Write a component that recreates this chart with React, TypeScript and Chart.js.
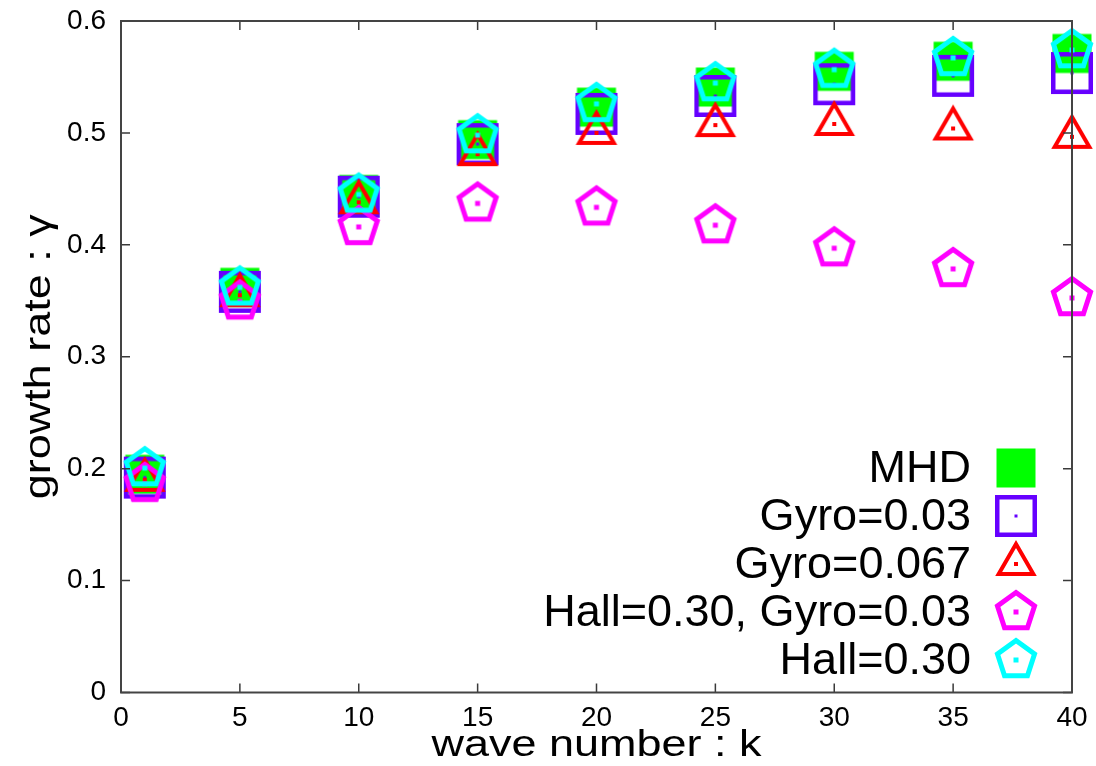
import React, { useEffect, useRef } from "react";
import { Chart, registerables } from "chart.js";

Chart.register(...registerables);

// ---- data ----
const kValues = [1, 5, 10, 15, 20, 25, 30, 35, 40];
const mhdValues = [0.195, 0.362, 0.445, 0.494, 0.523, 0.541, 0.555, 0.564, 0.571];
const gyro003Values = [0.192, 0.358, 0.443, 0.49, 0.517, 0.533, 0.5435, 0.551, 0.5535];
const gyro0067Values = [0.19, 0.355, 0.438, 0.481, 0.5, 0.507, 0.508, 0.504, 0.4965];
const hallGyroValues = [0.1865, 0.3495, 0.416, 0.437, 0.4335, 0.4175, 0.397, 0.3785, 0.3525];
const hallValues = [0.2005, 0.362, 0.445, 0.498, 0.526, 0.5445, 0.5565, 0.567, 0.574];

const seriesLabels = ["MHD", "Gyro=0.03", "Gyro=0.067", "Hall=0.30, Gyro=0.03", "Hall=0.30"];
const seriesValues = [mhdValues, gyro003Values, gyro0067Values, hallGyroValues, hallValues];
const seriesColors = ["#00ff00", "#6600ff", "#ff0000", "#ff00ff", "#00ffff"];
const markerKinds = ["filledSquare", "square", "triangle", "pentagon", "pentagon"];

const xTickValues = [0, 5, 10, 15, 20, 25, 30, 35, 40];
const yTickValues = [0, 0.1, 0.2, 0.3, 0.4, 0.5, 0.6];
const xTitle = "wave number : k";
const yTitle = "growth rate : \u03b3";

const FONT = "'Liberation Sans', Arial, sans-serif";

function makeMarker(kind: string, color: string): HTMLCanvasElement {
  const size = 60;
  const c = size / 2;
  const cv = document.createElement("canvas");
  cv.width = size;
  cv.height = size;
  const g = cv.getContext("2d")!;
  g.strokeStyle = color;
  g.fillStyle = color;
  g.lineJoin = "miter";
  let dot = 4;
  if (kind === "filledSquare") {
    g.fillRect(c - 19.5, c - 19.5, 39, 39);
  } else if (kind === "square") {
    g.lineWidth = 4.5;
    g.strokeRect(c - 18.75, c - 18.75, 37.5, 37.5);
    dot = 3;
  } else if (kind === "triangle") {
    const r = 20;
    g.lineWidth = 4;
    g.beginPath();
    for (let i = 0; i < 3; i++) {
      const a = -Math.PI / 2 + (i * 2 * Math.PI) / 3;
      const px = c + r * Math.cos(a);
      const py = c + r * Math.sin(a);
      if (i === 0) g.moveTo(px, py);
      else g.lineTo(px, py);
    }
    g.closePath();
    g.stroke();
    dot = 4;
  } else if (kind === "pentagon") {
    const r = 19.5;
    g.lineWidth = 5;
    g.beginPath();
    for (let i = 0; i < 5; i++) {
      const a = -Math.PI / 2 + (i * 2 * Math.PI) / 5;
      const px = c + r * Math.cos(a);
      const py = c + r * Math.sin(a);
      if (i === 0) g.moveTo(px, py);
      else g.lineTo(px, py);
    }
    g.closePath();
    g.stroke();
    dot = 5;
  }
  g.fillRect(c - dot / 2, c - dot / 2, dot, dot);
  return cv;
}

function drawStretchedText(
  ctx: CanvasRenderingContext2D,
  text: string,
  x: number,
  y: number,
  size: number,
  stretch: number,
  align: CanvasTextAlign,
  rotate = 0
) {
  ctx.save();
  ctx.translate(x, y);
  if (rotate) ctx.rotate(rotate);
  ctx.scale(stretch, 1);
  ctx.font = `${size}px ${FONT}`;
  ctx.fillStyle = "#000";
  ctx.textAlign = align;
  ctx.textBaseline = "alphabetic";
  ctx.fillText(text, 0, 0);
  ctx.restore();
}

export default function App() {
  const ref = useRef<HTMLCanvasElement | null>(null);

  useEffect(() => {
    document.body.style.margin = "0";
    const canvas = ref.current!;
    const markers = seriesColors.map((col, i) => makeMarker(markerKinds[i], col));

    const framePlugin = {
      id: "gnuplotFrame",
      afterDatasetsDraw(chart: any) {
        const { ctx, chartArea } = chart;
        const { left, right, top, bottom } = chartArea;
        const xs = chart.scales.x;
        const ys = chart.scales.y;
        ctx.save();
        ctx.strokeStyle = "#3a3a3a";
        ctx.lineWidth = 1.5;
        const tl = 9;
        ctx.beginPath();
        xTickValues.forEach((v) => {
          const px = xs.getPixelForValue(v);
          ctx.moveTo(px, bottom);
          ctx.lineTo(px, bottom - tl);
          ctx.moveTo(px, top);
          ctx.lineTo(px, top + tl);
        });
        yTickValues.forEach((v) => {
          const py = ys.getPixelForValue(v);
          ctx.moveTo(left, py);
          ctx.lineTo(left + tl, py);
          ctx.moveTo(right, py);
          ctx.lineTo(right - tl, py);
        });
        ctx.stroke();
        ctx.lineWidth = 2;
        ctx.strokeStyle = "#444";
        ctx.strokeRect(left, top, right - left, bottom - top);
        ctx.restore();
      },
      afterDraw(chart: any) {
        const { ctx, chartArea } = chart;
        const { left, right, top, bottom } = chartArea;
        // axis titles
        drawStretchedText(ctx, xTitle, (left + right) / 2, 756, 36, 1.25, "center");
        drawStretchedText(ctx, yTitle, 50, (top + bottom) / 2, 36, 1.25, "center", -Math.PI / 2);
        // legend
        const textRight = 971;
        const symX = 1016;
        seriesLabels.forEach((label, i) => {
          const rowY = 468 + i * 48;
          drawStretchedText(ctx, label, textRight, rowY + 14, 45, 1, "right");
          const m = markers[i];
          ctx.drawImage(m, symX - m.width / 2, rowY - m.height / 2);
        });
      },
    };

    const datasets = seriesLabels.map((label, i) => ({
      label,
      data: kValues.map((k, j) => ({ x: k, y: seriesValues[i][j] })),
      pointStyle: markers[i] as any,
      pointRadius: 20,
      showLine: false,
      clip: false as any,
      order: seriesLabels.length - i,
    }));

    const chart = new Chart(canvas, {
      type: "scatter",
      data: { datasets },
      plugins: [framePlugin],
      options: {
        responsive: false,
        animation: false,
        events: [],
        layout: { padding: { top: 20.5, right: 24, left: 0, bottom: 0 } },
        plugins: {
          legend: { display: false },
          tooltip: { enabled: false },
        },
        scales: {
          x: {
            type: "linear",
            min: 0,
            max: 40,
            afterBuildTicks: (s: any) => {
              s.ticks = xTickValues.map((v) => ({ value: v }));
            },
            ticks: {
              color: "#000",
              font: { family: FONT, size: 28 },
              padding: 9,
              maxRotation: 0,
            },
            grid: { display: false, drawTicks: false },
            border: { display: false },
            afterFit: (s: any) => {
              s.height = 73.5;
              s.paddingLeft = 0;
              s.paddingRight = 0;
            },
          },
          y: {
            type: "linear",
            min: 0,
            max: 0.6,
            afterBuildTicks: (s: any) => {
              s.ticks = yTickValues.map((v) => ({ value: v }));
            },
            ticks: {
              color: "#000",
              font: { family: FONT, size: 28 },
              padding: 15,
              callback: (v: any) => String(Math.round(Number(v) * 10) / 10),
            },
            grid: { display: false, drawTicks: false },
            border: { display: false },
            afterFit: (s: any) => {
              s.width = 121;
              s.paddingTop = 0;
              s.paddingBottom = 0;
            },
          },
        },
      },
    });
    return () => chart.destroy();
  }, []);

  return (
    <div style={{ width: 1096, height: 766, background: "#fff" }}>
      <canvas ref={ref} width={1096} height={766} style={{ display: "block" }} />
    </div>
  );
}
